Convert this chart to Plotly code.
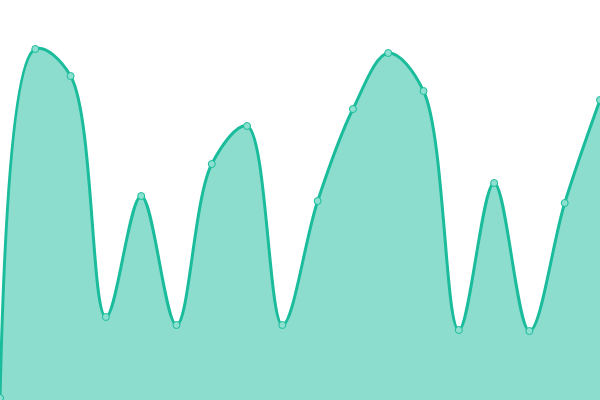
import plotly.graph_objects as go

# x positions (index) and values
x_idx = list(range(18))
values = [2, 351, 324, 83, 204, 75, 236, 274, 75, 199, 291, 347, 309, 70, 217, 69, 197, 300]

line_color = "#1abc9c"
fill_color = "rgba(26,188,156,0.5)"

fig = go.Figure()
fig.add_trace(go.Scatter(
    x=x_idx,
    y=values,
    mode="lines+markers",
    line=dict(color=line_color, width=3, shape="spline", smoothing=1),
    fill="tozeroy",
    fillcolor=fill_color,
    marker=dict(size=7, color="#8ce0cf", line=dict(color=line_color, width=1)),
    hoverinfo="y",
    showlegend=False,
))

fig.update_layout(
    width=600,
    height=400,
    margin=dict(l=0, r=0, t=0, b=0),
    paper_bgcolor="white",
    plot_bgcolor="white",
    xaxis=dict(visible=False, range=[0, 17]),
    yaxis=dict(visible=False, range=[0, 400]),
)

# drop the page's default body margin so the chart sits at 0,0
fig.write_html(
    "out.html",
    config={"displayModeBar": False},
    post_script="document.body.style.margin='0';",
)
